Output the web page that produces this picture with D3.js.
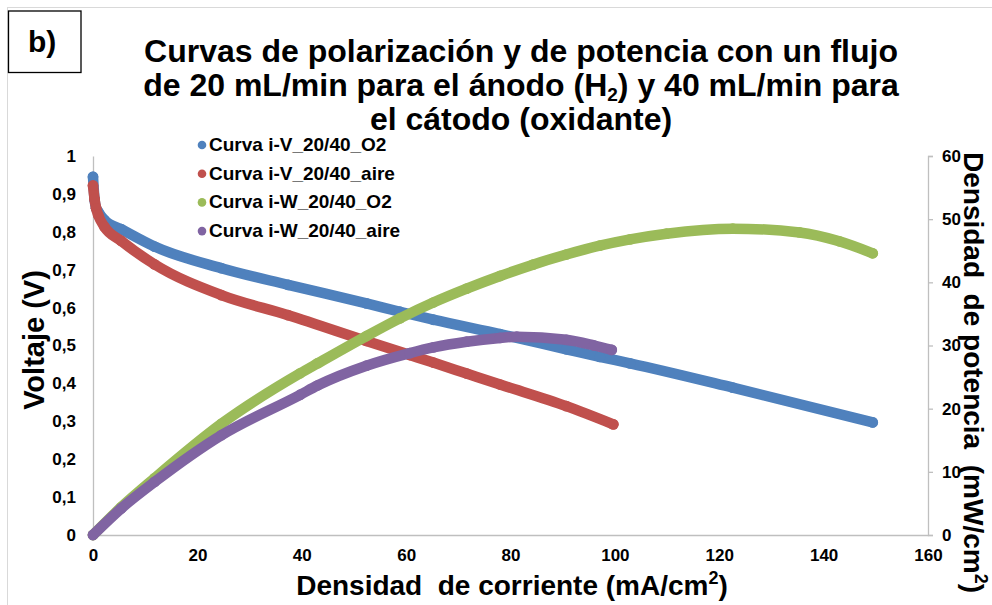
<!DOCTYPE html>
<html>
<head>
<meta charset="utf-8">
<script src="https://cdn.jsdelivr.net/npm/d3@7"></script>
<style>
  html, body { margin: 0; padding: 0; background: #ffffff; }
  svg { display: block; font-family: "Liberation Sans", Arial, sans-serif; }
  .keep-space { white-space: pre; }
</style>
</head>
<body>
<svg id="chart" width="992" height="605"></svg>
<script>
// Polarization curves (voltage, left axis) and power curves (right axis)
// Current density in mA/cm2, voltage in V, power density in mW/cm2

const currentViO2 = [0, 0.3, 0.6, 1, 2.2, 5.4, 11.8, 24.6, 37.4, 52.4, 58.8, 65.2, 78, 90.7, 97.1, 102.9, 122.6, 149.4];
const voltageViO2 = [0.945, 0.885, 0.862, 0.853, 0.831, 0.807, 0.761, 0.704, 0.660, 0.611, 0.589, 0.568, 0.530, 0.490, 0.470, 0.453, 0.389, 0.297];

const currentViAire = [0, 0.3, 0.6, 1, 2.2, 5.4, 11.8, 24.6, 37.4, 52.4, 60.7, 65.2, 71.6, 78, 90.7, 99.7];
const voltageViAire = [0.922, 0.886, 0.862, 0.844, 0.813, 0.776, 0.714, 0.633, 0.580, 0.512, 0.475, 0.455, 0.426, 0.397, 0.340, 0.292];

const currentWO2 = [0, 5.4, 11.8, 24.6, 39.7, 43.1, 52.4, 58.8, 65.2, 71.6, 78, 84.3, 90.7, 97.1, 102.9, 109.9, 122.6, 135.4, 143, 149.4];
const powerWO2 = [0, 4.4, 9.0, 17.6, 25.6, 27.2, 31.5, 34.3, 36.8, 39.0, 41.0, 42.8, 44.4, 45.8, 46.8, 47.7, 48.5, 47.9, 46.5, 44.6];

const currentWAire = [0, 5.4, 11.8, 24.6, 39.7, 43.1, 52.4, 60.7, 65.2, 71.6, 78, 81.2, 90.7, 96, 99.4];
const powerWAire = [0, 4.2, 8.4, 15.8, 22.2, 23.7, 26.8, 28.8, 29.7, 30.6, 31.2, 31.4, 30.9, 30.0, 29.3];

const seriesNames = ["Curva i-V_20/40_O2", "Curva i-V_20/40_aire", "Curva i-W_20/40_O2", "Curva i-W_20/40_aire"];
const seriesColors = ["#4f81bd", "#c0504d", "#9bbb59", "#8064a2"];

const xTicks = [0, 20, 40, 60, 80, 100, 120, 140, 160];
const yLeftTicks = [0, 0.1, 0.2, 0.3, 0.4, 0.5, 0.6, 0.7, 0.8, 0.9, 1];
const yRightTicks = [0, 10, 20, 30, 40, 50, 60];

const svg = d3.select("#chart");

// plot frame
const plotLeft = 93, plotRight = 928, plotTop = 156, plotBottom = 535;
const x = d3.scaleLinear().domain([0, 160]).range([plotLeft, plotRight]);
const yL = d3.scaleLinear().domain([0, 1]).range([plotBottom, plotTop]);
const yR = d3.scaleLinear().domain([0, 60]).range([plotBottom, plotTop]);

// outer chart border
svg.append("rect")
  .attr("x", 7.5).attr("y", 7.5).attr("width", 1000).attr("height", 700)
  .attr("fill", "none").attr("stroke", "#d9d9d9").attr("stroke-width", 1);

// panel tag
svg.append("rect")
  .attr("x", 8.5).attr("y", 11).attr("width", 72.5).attr("height", 61.5)
  .attr("fill", "#fff").attr("stroke", "#000").attr("stroke-width", 1.3);
svg.append("text")
  .attr("x", 28).attr("y", 52)
  .attr("font-size", 30).attr("font-weight", "bold").text("b)");

// title
const title = svg.append("text")
  .attr("text-anchor", "middle").attr("font-size", 32).attr("font-weight", "bold")
  .attr("fill", "#000");
title.append("tspan").attr("x", 521).attr("y", 62)
  .text("Curvas de polarización y de potencia con un flujo");
const t2 = title.append("tspan").attr("x", 521).attr("y", 96);
t2.append("tspan").text("de 20 mL/min para el ánodo (H");
t2.append("tspan").attr("font-size", 19).attr("dy", 5).text("2");
t2.append("tspan").attr("dy", -5).text(") y 40 mL/min para");
title.append("tspan").attr("x", 521).attr("y", 130).text("el cátodo (oxidante)");

// axes
const axisColor = "#bfbfbf";
const xAxis = svg.append("g").attr("transform", `translate(0,${plotBottom})`)
  .call(d3.axisBottom(x).tickValues(xTicks).tickSize(0).tickPadding(14).tickFormat(d3.format("d")));
const yAxisL = svg.append("g").attr("transform", `translate(${plotLeft},0)`)
  .call(d3.axisLeft(yL).tickValues(yLeftTicks).tickSize(0).tickPadding(17)
    .tickFormat(d => d3.format(".1~f")(d).replace(".", ",")));
const yAxisR = svg.append("g").attr("transform", `translate(${plotRight},0)`)
  .call(d3.axisRight(yR).tickValues(yRightTicks).tickSize(5).tickPadding(9).tickFormat(d3.format("d")));

[xAxis, yAxisL, yAxisR].forEach(g => {
  g.select(".domain").attr("stroke", axisColor).attr("stroke-width", 1.3);
  g.selectAll(".tick line").attr("stroke", axisColor).attr("stroke-width", 1.3);
  g.selectAll(".tick text").attr("font-size", 17).attr("font-weight", "bold")
    .attr("fill", "#000").attr("font-family", '"Liberation Sans", Arial, sans-serif');
});

// axis titles
svg.append("text")
  .attr("class", "keep-space")
  .attr("transform", "translate(512,595)")
  .attr("text-anchor", "middle").attr("font-size", 28).attr("font-weight", "bold")
  .call(t => {
    t.append("tspan").text("Densidad  de corriente (mA/cm");
    t.append("tspan").attr("font-size", 18).attr("dy", -11).text("2");
    t.append("tspan").attr("dy", 11).text(")");
  });

svg.append("text")
  .attr("transform", "translate(44,340) rotate(-90)")
  .attr("text-anchor", "middle").attr("font-size", 29).attr("font-weight", "bold")
  .text("Voltaje (V)");

svg.append("text")
  .attr("class", "keep-space")
  .attr("transform", "translate(964,152) rotate(90)")
  .attr("text-anchor", "start").attr("font-size", 28).attr("font-weight", "bold")
  .call(t => {
    t.append("tspan").text("Densidad  de potencia  (mW/cm");
    t.append("tspan").attr("font-size", 18).attr("dy", -11).text("2");
    t.append("tspan").attr("dy", 11).text(")");
  });

// series
const series = [
  { xs: currentViO2, ys: voltageViO2, scale: yL },
  { xs: currentViAire, ys: voltageViAire, scale: yL },
  { xs: currentWO2, ys: powerWO2, scale: yR },
  { xs: currentWAire, ys: powerWAire, scale: yR }
];

const marks = svg.append("g");
series.forEach((s, k) => {
  const pts = s.xs.map((v, i) => [v, s.ys[i]]);
  const line = d3.line()
    .x(d => x(d[0])).y(d => s.scale(d[1]))
    .curve(d3.curveMonotoneX);
  const g = marks.append("g");
  g.append("path")
    .attr("d", line(pts))
    .attr("fill", "none").attr("stroke", seriesColors[k])
    .attr("stroke-width", 10.5).attr("stroke-linecap", "round").attr("stroke-linejoin", "round");
  g.selectAll("circle").data(pts).join("circle")
    .attr("cx", d => x(d[0])).attr("cy", d => s.scale(d[1]))
    .attr("r", 5.4).attr("fill", seriesColors[k]);
});

// legend
const legend = svg.append("g");
seriesNames.forEach((name, k) => {
  const yb = 151 + k * 28.7;
  legend.append("circle").attr("cx", 202).attr("cy", yb - 6).attr("r", 4.3).attr("fill", seriesColors[k]);
  legend.append("text").attr("x", 209).attr("y", yb)
    .attr("font-size", 19).attr("font-weight", "bold").attr("fill", "#000").text(name);
});
</script>
</body>
</html>
